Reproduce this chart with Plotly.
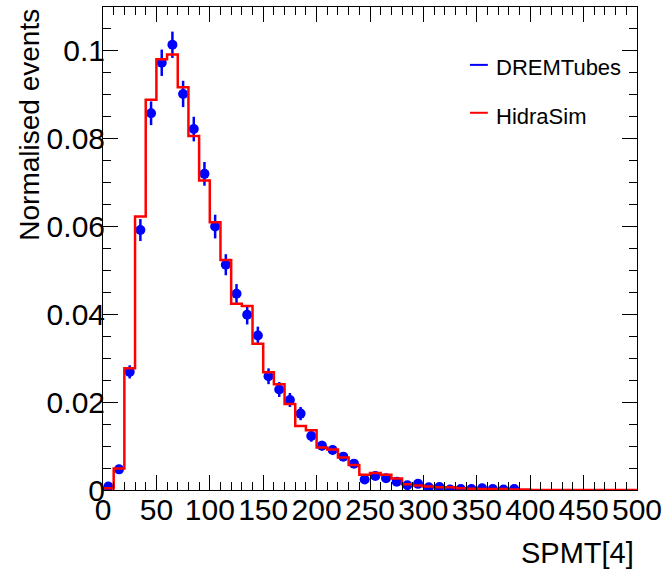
import plotly.graph_objects as go

# ---- data ----
bin_width = 10
sim_edges = list(range(0, 510, 10))  # 0..500
sim_values = [0.0004, 0.0049, 0.0277, 0.0623, 0.0889, 0.0981, 0.0992, 0.0917, 0.0806, 0.0705,
              0.0610, 0.0524, 0.0424, 0.0419, 0.0333, 0.0268, 0.0241, 0.0196, 0.0146, 0.0136,
              0.0097, 0.0092, 0.0074, 0.0057, 0.0035, 0.0039, 0.0035, 0.0026, 0.0013, 0.0010,
              0.0008, 0.0006, 0.0006, 0.0004, 0.0003, 0.0002, 0.0002, 0.0002, 0.0001, 0.0001,
              0.0, 0.0, 0.0, 0.0, 0.0, 0.0, 0.0, 0.0, 0.0, 0.0]

data_centers = list(range(5, 395, 10))  # 5..385
data_values = [0.0008, 0.0047, 0.0269, 0.0592, 0.0858, 0.0973, 0.1014, 0.0902, 0.0822, 0.0720,
               0.0600, 0.0513, 0.0447, 0.0399, 0.0352, 0.0259, 0.0229, 0.0205, 0.0174, 0.0123,
               0.0101, 0.0091, 0.0076, 0.0060, 0.0024, 0.0032, 0.0027, 0.0019, 0.0011, 0.0014,
               0.0006, 0.0007, 0.0001, 0.0002, 0.0002, 0.0004, 0.0002, 0.0001, 0.0002]
data_errors = [0.0005, 0.0008, 0.0015, 0.0025, 0.0027, 0.0030, 0.0030, 0.0030, 0.0028, 0.0027,
               0.0027, 0.0024, 0.0022, 0.0022, 0.0020, 0.0018, 0.0017, 0.0016, 0.0015, 0.0013,
               0.0011, 0.0010, 0.0010, 0.0009, 0.0006, 0.0006, 0.0006, 0.0005, 0.0004, 0.0004,
               0.0003, 0.0003, 0.0002, 0.0002, 0.0002, 0.0002, 0.0002, 0.0002, 0.0002]

x_tickvals = list(range(0, 550, 50))
x_ticktext = [str(v) for v in x_tickvals]
y_tickvals = [0, 0.02, 0.04, 0.06, 0.08, 0.1]
y_ticktext = ["0", "0.02", "0.04", "0.06", "0.08", "0.1"]

series_names = ["DREMTubes", "HidraSim"]
series_colors = ["#0000ff", "#ff0000"]

FONT = "Liberation Sans, Arial, Helvetica, sans-serif"

fig = go.Figure()

fig.add_trace(go.Scatter(
    x=data_centers, y=data_values, mode="markers",
    marker=dict(color=series_colors[0], size=10, line=dict(width=0)),
    error_y=dict(type="data", array=data_errors, visible=True, color=series_colors[0],
                 thickness=2.5, width=0),
    name=series_names[0], showlegend=False,
))

fig.add_trace(go.Scatter(
    x=sim_edges, y=sim_values + [sim_values[-1]], mode="lines",
    line=dict(color=series_colors[1], width=2.5, shape="hv"),
    name=series_names[1], showlegend=False,
))

axis_common = dict(
    showline=True, linecolor="black", linewidth=1, mirror="allticks",
    ticks="inside", tickcolor="black", tickwidth=1,
    showgrid=False, zeroline=False,
    tickfont=dict(family=FONT, size=30, color="black"),
)

fig.update_xaxes(range=[0, 500], tickvals=x_tickvals, ticktext=x_ticktext, ticklen=15,
                 ticklabelstandoff=-7,
                 minor=dict(dtick=10, tick0=0, ticklen=8, ticks="inside", tickcolor="black",
                            tickwidth=1, showgrid=False),
                 **axis_common)
fig.update_yaxes(range=[0, 0.11], tickvals=y_tickvals, ticktext=y_ticktext, ticklen=15,
                 ticklabelstandoff=-9,
                 minor=dict(dtick=0.005, tick0=0, ticklen=8, ticks="inside", tickcolor="black",
                            tickwidth=1, showgrid=False),
                 **axis_common)

# manual ROOT-style legend
L, R, T, B = 103, 640, 6, 490
W, H = R - L, B - T
def px(xp):
    return (xp - L) / W
def py(yp):
    return (B - yp) / H

legend_rows = [(64, 67), (112, 116)]
for name, color, (ly, ty) in zip(series_names, series_colors, legend_rows):
    fig.add_shape(type="line", xref="paper", yref="paper",
                  x0=px(472), x1=px(490), y0=py(ly), y1=py(ly),
                  line=dict(color=color, width=2))
    fig.add_annotation(xref="paper", yref="paper", x=px(496), y=py(ty), text=name,
                       showarrow=False, xanchor="left", yanchor="middle",
                       font=dict(family=FONT, size=22, color="black"))

fig.add_annotation(xref="paper", yref="paper", x=px(29), y=py(123.5), text="Normalised events",
                   showarrow=False, textangle=-90, xanchor="center", yanchor="middle",
                   font=dict(family=FONT, size=28, color="black"))
fig.add_annotation(xref="paper", yref="paper", x=px(639), y=py(553), text="SPMT[4]",
                   showarrow=False, xanchor="right", yanchor="middle",
                   font=dict(family=FONT, size=29, color="black"))

fig.update_layout(
    width=668, height=579, autosize=False,
    margin=dict(l=L, r=668 - R, t=T, b=579 - B, pad=0),
    paper_bgcolor="white", plot_bgcolor="white",
    showlegend=False,
)

fig.write_html("out.html", config={"displayModeBar": False},
               post_script="document.body.style.margin='0';document.body.style.overflow='hidden';")
